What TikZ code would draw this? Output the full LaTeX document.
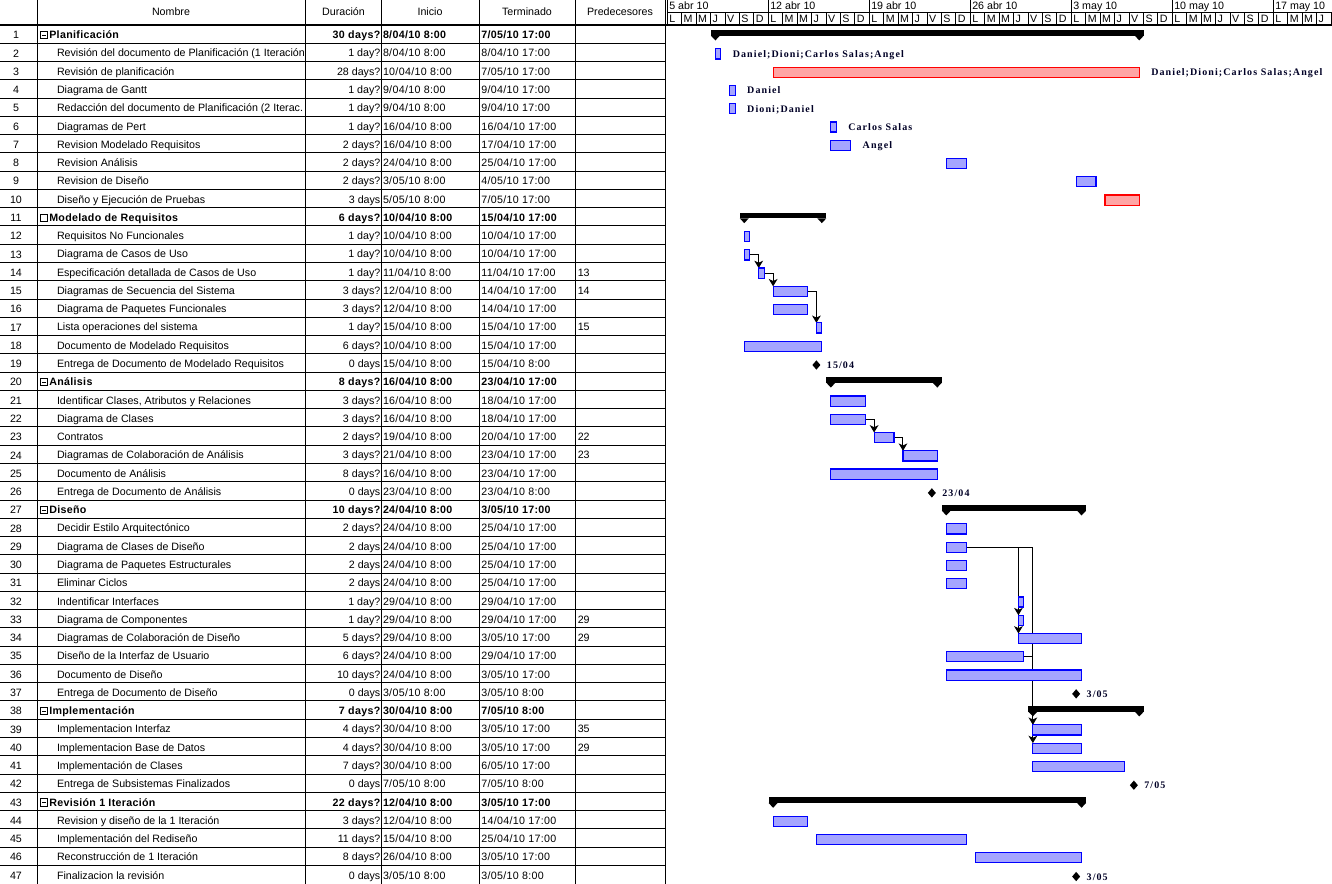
\documentclass[tikz,border=0pt]{standalone}
\usepackage{fontspec}
\setmainfont{Liberation Sans}
\newfontfamily\datefont[LetterSpace=3]{Liberation Sans}
\newfontfamily\boldfont[LetterSpace=3]{Liberation Sans}
\newfontfamily\gfont[LetterSpace=11]{Liberation Serif}
\usetikzlibrary{arrows.meta,shapes.geometric}
\pgfdeclarelayer{paper}
\pgfdeclarelayer{links}
\pgfsetlayers{paper,links,main}
\definecolor{taskfill}{HTML}{A5A5FF}
\definecolor{taskline}{HTML}{0000FF}
\definecolor{critfill}{HTML}{FFA5A5}
\definecolor{critline}{HTML}{FF0000}
\tikzset{
  every node/.style={inner sep=0pt, outer sep=0pt},
  tabtxt/.style={font=\fontsize{8}{9}\selectfont},
  datetxt/.style={font=\datefont\fontsize{8}{9}\selectfont},
  tabbold/.style={font=\boldfont\fontsize{8}{9}\selectfont\bfseries},
  gridline/.style={line width=0.75pt},
  taskbar/.style={draw=taskline, fill=taskfill, line width=0.9pt, minimum height=7.6pt},
  critbar/.style={draw=critline, fill=critfill, line width=0.9pt, minimum height=7.6pt},
  sumbar/.style={fill=black, minimum height=4.3pt},
  mile/.style={diamond, fill=black, minimum width=6pt, minimum height=7pt},
  glab/.style={font=\gfont\fontsize{7.5}{8}\selectfont\bfseries, text=black!85!blue},
  dep/.style={line width=0.75pt, -{Stealth[length=5.5pt,width=6.5pt,inset=1.5pt]}},
}
\newcommand\gtask[4]{%
  \pgfmathsetmacro\xa{667.3+(#2+8/24)*14.43}%
  \pgfmathsetmacro\xb{667.3+(#3+17/24)*14.43}%
  \pgfmathsetmacro\gw{(\xb-\xa)*0.75}%
  \pgfmathsetmacro\yc{25+(#1-0.5)*18.27+1.5}%
  \node[#4, minimum width=\gw pt] (b#1) at ({(\xa+\xb)/2},\yc) {};}
\newcommand\gsum[3]{%
  \pgfmathsetmacro\xa{667.3+(#2+8/24)*14.43}%
  \pgfmathsetmacro\xb{667.3+(#3+17/24)*14.43}%
  \pgfmathsetmacro\gw{(\xb-\xa+9)*0.75}%
  \pgfmathsetmacro\yc{25+(#1-0.5)*18.27}%
  \node[sumbar, minimum width=\gw pt] (s#1) at ({(\xa+\xb)/2},{\yc-1.25}) {};
  \fill (\xa-4.5,\yc+1.5) -- (\xa+4.5,\yc+1.5) -- (\xa,\yc+6.3) -- cycle;
  \fill (\xb-4.5,\yc+1.5) -- (\xb+4.5,\yc+1.5) -- (\xb,\yc+6.3) -- cycle;}
\newcommand\gmile[3]{%
  \pgfmathsetmacro\xa{667.3+(#2+8/24)*14.43}%
  \pgfmathsetmacro\yc{25+(#1-0.5)*18.27+2}%
  \node[mile] (m#1) at (\xa,\yc) {};
  \node[glab, anchor=mid west] (ml#1) at (\xa+10.5,\yc) {#3};}
\newcommand\gres[2]{%
  \node[glab, anchor=mid west] (r#1) at ([xshift=9pt]b#1.east) {#2};}
\def\allrows{%
\myrow{1}{s}{Planificación}{30 days?}{8/04/10 8:00}{7/05/10 17:00}{}%
\myrow{2}{t}{Revisión del documento de Planificación (1 Iteración}{1 day?}{8/04/10 8:00}{8/04/10 17:00}{}%
\myrow{3}{t}{Revisión de planificación}{28 days?}{10/04/10 8:00}{7/05/10 17:00}{}%
\myrow{4}{t}{Diagrama de Gantt}{1 day?}{9/04/10 8:00}{9/04/10 17:00}{}%
\myrow{5}{t}{Redacción del documento de Planificación (2 Iterac.}{1 day?}{9/04/10 8:00}{9/04/10 17:00}{}%
\myrow{6}{t}{Diagramas de Pert}{1 day?}{16/04/10 8:00}{16/04/10 17:00}{}%
\myrow{7}{t}{Revision Modelado Requisitos}{2 days?}{16/04/10 8:00}{17/04/10 17:00}{}%
\myrow{8}{t}{Revision Análisis}{2 days?}{24/04/10 8:00}{25/04/10 17:00}{}%
\myrow{9}{t}{Revision de Diseño}{2 days?}{3/05/10 8:00}{4/05/10 17:00}{}%
\myrow{10}{t}{Diseño y Ejecución de Pruebas}{3 days}{5/05/10 8:00}{7/05/10 17:00}{}%
\myrow{11}{e}{Modelado de Requisitos}{6 days?}{10/04/10 8:00}{15/04/10 17:00}{}%
\myrow{12}{t}{Requisitos No Funcionales}{1 day?}{10/04/10 8:00}{10/04/10 17:00}{}%
\myrow{13}{t}{Diagrama de Casos de Uso}{1 day?}{10/04/10 8:00}{10/04/10 17:00}{}%
\myrow{14}{t}{Especificación detallada de Casos de Uso}{1 day?}{11/04/10 8:00}{11/04/10 17:00}{13}%
\myrow{15}{t}{Diagramas de Secuencia del Sistema}{3 days?}{12/04/10 8:00}{14/04/10 17:00}{14}%
\myrow{16}{t}{Diagrama de Paquetes Funcionales}{3 days?}{12/04/10 8:00}{14/04/10 17:00}{}%
\myrow{17}{t}{Lista operaciones del sistema}{1 day?}{15/04/10 8:00}{15/04/10 17:00}{15}%
\myrow{18}{t}{Documento de Modelado Requisitos}{6 days?}{10/04/10 8:00}{15/04/10 17:00}{}%
\myrow{19}{t}{Entrega de Documento de Modelado Requisitos}{0 days}{15/04/10 8:00}{15/04/10 8:00}{}%
\myrow{20}{s}{Análisis}{8 days?}{16/04/10 8:00}{23/04/10 17:00}{}%
\myrow{21}{t}{Identificar Clases, Atributos y Relaciones}{3 days?}{16/04/10 8:00}{18/04/10 17:00}{}%
\myrow{22}{t}{Diagrama de Clases}{3 days?}{16/04/10 8:00}{18/04/10 17:00}{}%
\myrow{23}{t}{Contratos}{2 days?}{19/04/10 8:00}{20/04/10 17:00}{22}%
\myrow{24}{t}{Diagramas de Colaboración de Análisis}{3 days?}{21/04/10 8:00}{23/04/10 17:00}{23}%
\myrow{25}{t}{Documento de Análisis}{8 days?}{16/04/10 8:00}{23/04/10 17:00}{}%
\myrow{26}{t}{Entrega de Documento de Análisis}{0 days}{23/04/10 8:00}{23/04/10 8:00}{}%
\myrow{27}{s}{Diseño}{10 days?}{24/04/10 8:00}{3/05/10 17:00}{}%
\myrow{28}{t}{Decidir Estilo Arquitectónico}{2 days?}{24/04/10 8:00}{25/04/10 17:00}{}%
\myrow{29}{t}{Diagrama de Clases de Diseño}{2 days}{24/04/10 8:00}{25/04/10 17:00}{}%
\myrow{30}{t}{Diagrama de Paquetes Estructurales}{2 days}{24/04/10 8:00}{25/04/10 17:00}{}%
\myrow{31}{t}{Eliminar Ciclos}{2 days}{24/04/10 8:00}{25/04/10 17:00}{}%
\myrow{32}{t}{Indentificar Interfaces}{1 day?}{29/04/10 8:00}{29/04/10 17:00}{}%
\myrow{33}{t}{Diagrama de Componentes}{1 day?}{29/04/10 8:00}{29/04/10 17:00}{29}%
\myrow{34}{t}{Diagramas de Colaboración de Diseño}{5 days?}{29/04/10 8:00}{3/05/10 17:00}{29}%
\myrow{35}{t}{Diseño de la Interfaz de Usuario}{6 days?}{24/04/10 8:00}{29/04/10 17:00}{}%
\myrow{36}{t}{Documento de Diseño}{10 days?}{24/04/10 8:00}{3/05/10 17:00}{}%
\myrow{37}{t}{Entrega de Documento de Diseño}{0 days}{3/05/10 8:00}{3/05/10 8:00}{}%
\myrow{38}{s}{Implementación}{7 days?}{30/04/10 8:00}{7/05/10 8:00}{}%
\myrow{39}{t}{Implementacion Interfaz}{4 days?}{30/04/10 8:00}{3/05/10 17:00}{35}%
\myrow{40}{t}{Implementacion Base de Datos}{4 days?}{30/04/10 8:00}{3/05/10 17:00}{29}%
\myrow{41}{t}{Implementación de Clases}{7 days?}{30/04/10 8:00}{6/05/10 17:00}{}%
\myrow{42}{t}{Entrega de Subsistemas Finalizados}{0 days}{7/05/10 8:00}{7/05/10 8:00}{}%
\myrow{43}{s}{Revisión 1 Iteración}{22 days?}{12/04/10 8:00}{3/05/10 17:00}{}%
\myrow{44}{t}{Revision y diseño de la 1 Iteración}{3 days?}{12/04/10 8:00}{14/04/10 17:00}{}%
\myrow{45}{t}{Implementación del Rediseño}{11 days?}{15/04/10 8:00}{25/04/10 17:00}{}%
\myrow{46}{t}{Reconstrucción de 1 Iteración}{8 days?}{26/04/10 8:00}{3/05/10 17:00}{}%
\myrow{47}{t}{Finalizacion la revisión}{0 days}{3/05/10 8:00}{3/05/10 8:00}{}%
}
\begin{document}
\begin{tikzpicture}[x=0.75pt, y=-0.75pt]
\useasboundingbox (0,0) rectangle (1332,884);
\begin{pgfonlayer}{paper}
\fill[white] (0,0) rectangle (1332,884);
\end{pgfonlayer}
% ---- table grid
\foreach \n in {1,...,46} \draw[gridline] (0,{25+\n*18.27}) -- (665,{25+\n*18.27});
\foreach \x in {37.7,305.7,381.7,479,575.7,665} \draw[gridline] (\x,0) -- (\x,884);
\draw[line width=1.3pt] (0,25) -- (1332,25);
% ---- header
\node[tabtxt] (hnom) at (171,12) {Nombre};
\node[tabtxt] (hdur) at (343.5,12) {Duración};
\node[tabtxt] (hini) at (430,12) {Inicio};
\node[tabtxt] (hter) at (527,12) {Terminado};
\node[tabtxt] (hpre) at (620,12) {Predecesores};
% ---- timescale
\draw[gridline] (667.3,12.3) -- (1332,12.3);
\foreach \d in {0,...,46} \draw[gridline] ({667.3+\d*14.43},12.3) -- ({667.3+\d*14.43},25);
\foreach \w/\lab in {0/5 abr 10,1/12 abr 10,2/19 abr 10,3/26 abr 10,4/3 may 10,5/10 may 10,6/17 may 10}{
  \draw[gridline] ({667.3+\w*101},0) -- ({667.3+\w*101},25);
  \node[tabtxt, anchor=mid west] (w\w) at ({669.3+\w*101},6.3) {\lab};
}
\foreach \d/\l in {0/L,1/M,2/M,3/J,4/V,5/S,6/D,7/L,8/M,9/M,10/J,11/V,12/S,13/D,14/L,15/M,16/M,17/J,18/V,19/S,20/D,21/L,22/M,23/M,24/J,25/V,26/S,27/D,28/L,29/M,30/M,31/J,32/V,33/S,34/D,35/L,36/M,37/M,38/J,39/V,40/S,41/D,42/L,43/M,44/M,45/J}
  \node[tabtxt, anchor=mid west] (d\d) at ({669.3+\d*14.43},19) {\l};
% ---- names (clipped)
\begin{scope}
\clip (38,25) rectangle (305.2,884);
\def\myrow#1#2#3#4#5#6#7{%
  \pgfmathsetmacro\yc{25+(#1-0.5)*18.27}%
  \if t#2
    \node[tabtxt, anchor=mid west] (nm#1) at (57,\yc+1) {#3};%
  \else
    \node[tabbold, anchor=mid west] (nm#1) at (49.3,\yc+1) {#3};%
    \draw[line width=0.6pt] (40.6,\yc-2.6) rectangle (47.8,\yc+4.6);%
    \if s#2 \draw[line width=0.6pt] (42.4,\yc+1) -- (46,\yc+1);\fi
  \fi}
\allrows
\end{scope}
% ---- other columns
\def\myrow#1#2#3#4#5#6#7{%
  \pgfmathsetmacro\yc{25+(#1-0.5)*18.27}%
  \if t#2 \tikzset{cur/.style={tabtxt},curd/.style={datetxt}}\else\tikzset{cur/.style={tabbold},curd/.style={tabbold}}\fi
  \node[tabtxt] (no#1) at (16,\yc+1) {#1};
  \node[cur, anchor=mid east] (du#1) at (380.3,\yc+1) {#4};
  \node[curd, anchor=mid west] (st#1) at (383,\yc+1) {#5};
  \node[curd, anchor=mid west] (en#1) at (481.3,\yc+1) {#6};
  \node[tabtxt, anchor=mid west] (pr#1) at (577.8,\yc+1) {#7};}
\allrows
% ---- gantt bars
\gsum{1}{3}{32}
\gsum{11}{5}{10}
\gsum{20}{11}{18}
\gsum{27}{19}{28}
\gsum{38}{25}{32}
\gsum{43}{7}{28}
\gtask{2}{3}{3}{taskbar}
\gtask{3}{7}{32}{critbar}
\gtask{4}{4}{4}{taskbar}
\gtask{5}{4}{4}{taskbar}
\gtask{6}{11}{11}{taskbar}
\gtask{7}{11}{12}{taskbar}
\gtask{8}{19}{20}{taskbar}
\gtask{9}{28}{29}{taskbar}
\gtask{10}{30}{32}{critbar}
\gtask{12}{5}{5}{taskbar}
\gtask{13}{5}{5}{taskbar}
\gtask{14}{6}{6}{taskbar}
\gtask{15}{7}{9}{taskbar}
\gtask{16}{7}{9}{taskbar}
\gtask{17}{10}{10}{taskbar}
\gtask{18}{5}{10}{taskbar}
\gtask{21}{11}{13}{taskbar}
\gtask{22}{11}{13}{taskbar}
\gtask{23}{14}{15}{taskbar}
\gtask{24}{16}{18}{taskbar}
\gtask{25}{11}{18}{taskbar}
\gtask{28}{19}{20}{taskbar}
\gtask{29}{19}{20}{taskbar}
\gtask{30}{19}{20}{taskbar}
\gtask{31}{19}{20}{taskbar}
\gtask{32}{24}{24}{taskbar}
\gtask{33}{24}{24}{taskbar}
\gtask{34}{24}{28}{taskbar}
\gtask{35}{19}{24}{taskbar}
\gtask{36}{19}{28}{taskbar}
\gtask{39}{25}{28}{taskbar}
\gtask{40}{25}{28}{taskbar}
\gtask{41}{25}{31}{taskbar}
\gtask{44}{7}{9}{taskbar}
\gtask{45}{10}{20}{taskbar}
\gtask{46}{21}{28}{taskbar}
% ---- dependencies, drawn behind the bars
\begin{pgfonlayer}{links}
\draw[dep] (b13.east) -| (b14.north west);
\draw[dep] (b14.east) -| (b15.north west);
\draw[dep] (b15.east) -| (b17.north west);
\draw[dep] (b22.east) -| (b23.north west);
\draw[dep] (b23.east) -| (b24.north west);
\draw[dep] (b29.east) -| (b33.north west);
\draw[dep] (b29.east) -| (b34.north west);
\draw[dep] (b29.east) -| (b40.north west);
\draw[dep] (b35.east) -| (b39.north west);
\end{pgfonlayer}
% ---- milestones
\gmile{19}{10}{15/04}
\gmile{26}{18}{23/04}
\gmile{37}{28}{3/05}
\gmile{42}{32}{7/05}
\gmile{47}{28}{3/05}
% ---- resource labels
\gres{2}{Daniel;Dioni;Carlos Salas;Angel}
\gres{3}{Daniel;Dioni;Carlos Salas;Angel}
\gres{4}{Daniel}
\gres{5}{Dioni;Daniel}
\gres{6}{Carlos Salas}
\gres{7}{Angel}
\end{tikzpicture}
\end{document}
